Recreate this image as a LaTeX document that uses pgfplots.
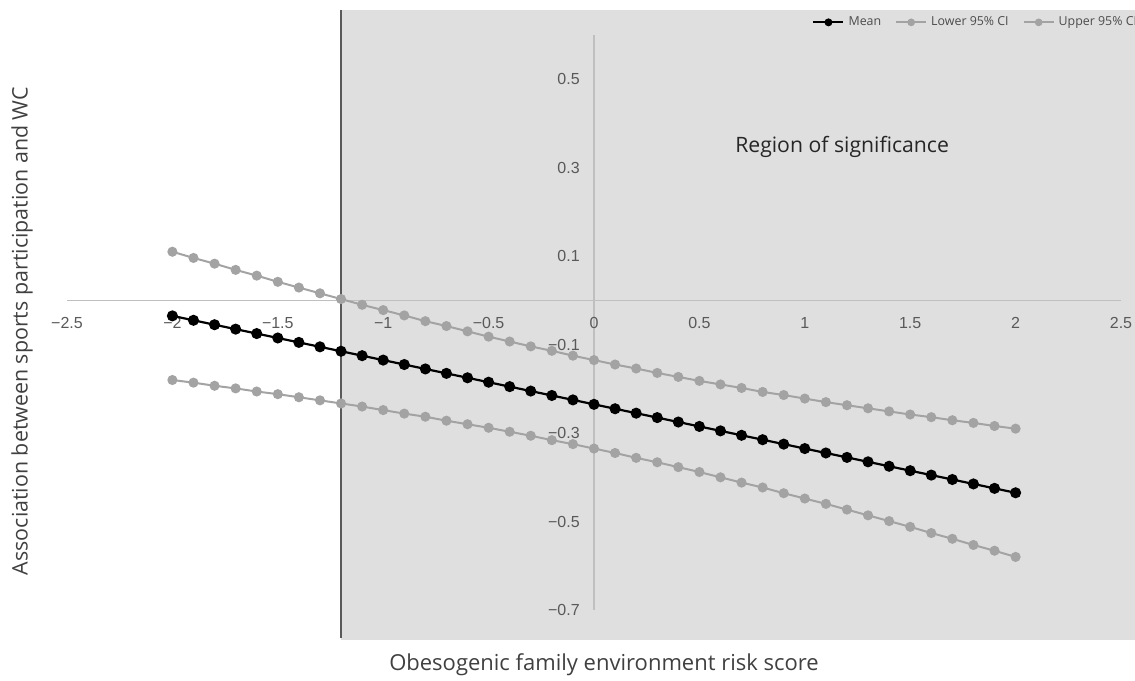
\documentclass[border=0pt]{standalone}
\usepackage{fontspec}
\setmainfont{Open Sans}
\newfontfamily\tickfont{Liberation Sans}
\usepackage{pgfplots}
\usepackage{pgfplotstable}
\pgfplotsset{compat=1.18}
\definecolor{cigray}{HTML}{A3A3A3}
\definecolor{shadegray}{HTML}{DFDFDF}
\definecolor{axgray}{HTML}{BFBFBF}
\definecolor{tickgray}{HTML}{595959}
\definecolor{divline}{HTML}{5A5A5A}
\definecolor{labgray}{HTML}{404040}

\pgfplotstableread{
x mean lower upper
-2.0 -0.035 -0.180 0.110
-1.9 -0.045 -0.186 0.096
-1.8 -0.055 -0.193 0.083
-1.7 -0.065 -0.199 0.069
-1.6 -0.075 -0.206 0.056
-1.5 -0.085 -0.212 0.042
-1.4 -0.095 -0.219 0.029
-1.3 -0.105 -0.226 0.016
-1.2 -0.115 -0.233 0.003
-1.1 -0.125 -0.240 -0.010
-1.0 -0.135 -0.248 -0.022
-0.9 -0.145 -0.256 -0.034
-0.8 -0.155 -0.263 -0.047
-0.7 -0.165 -0.272 -0.058
-0.6 -0.175 -0.280 -0.070
-0.5 -0.185 -0.288 -0.082
-0.4 -0.195 -0.297 -0.093
-0.3 -0.205 -0.306 -0.104
-0.2 -0.215 -0.316 -0.114
-0.1 -0.225 -0.325 -0.125
0.0 -0.235 -0.335 -0.135
0.1 -0.245 -0.345 -0.145
0.2 -0.255 -0.356 -0.154
0.3 -0.265 -0.366 -0.164
0.4 -0.275 -0.377 -0.173
0.5 -0.285 -0.388 -0.182
0.6 -0.295 -0.400 -0.190
0.7 -0.305 -0.412 -0.198
0.8 -0.315 -0.423 -0.207
0.9 -0.325 -0.436 -0.214
1.0 -0.335 -0.448 -0.222
1.1 -0.345 -0.460 -0.230
1.2 -0.355 -0.473 -0.237
1.3 -0.365 -0.486 -0.244
1.4 -0.375 -0.499 -0.251
1.5 -0.385 -0.512 -0.258
1.6 -0.395 -0.526 -0.264
1.7 -0.405 -0.539 -0.271
1.8 -0.415 -0.553 -0.277
1.9 -0.425 -0.566 -0.284
2.0 -0.435 -0.580 -0.290
}\data

\begin{document}
\begin{tikzpicture}
\fill[shadegray] (170.52pt,20pt) rectangle (567.5pt,335pt);
\draw[divline, line width=1pt] (170.52pt,21pt) -- (170.52pt,335pt);
\begin{axis}[
  at={(33.5pt,35pt)}, anchor=south west,
  scale only axis, width=527pt, height=287.5pt,
  xmin=-2.5, xmax=2.5, ymin=-0.7, ymax=0.6,
  axis lines=middle,
  axis line style={-, draw=axgray, line width=0.75pt},
  xtick={-2.5,-2,-1.5,-1,-0.5,0,0.5,1,1.5,2,2.5},
  xticklabels={−2.5,−2,−1.5,−1,−0.5,0,0.5,1,1.5,2,2.5},
  ytick={-0.7,-0.5,-0.3,-0.1,0.1,0.3,0.5},
  yticklabels={−0.7,−0.5,−0.3,−0.1,0.1,0.3,0.5},
  major tick length=0pt,
  tick style={draw=none},
  ticklabel style={font=\tickfont\fontsize{8}{9.5}\selectfont, text=tickgray},
  xticklabel style={yshift=-5pt},
  yticklabel style={xshift=-3.6pt},
  clip=false,
  legend columns=3,
  legend cell align=left,
  legend style={at={(0.7068,1.022)}, anchor=west, draw=none, fill=none,
    inner sep=0pt, font=\fontsize{6.2}{7}\selectfont, text=black!70,
    /tikz/every even column/.append style={column sep=5pt}},
  legend image code/.code={\draw[mark repeat=2,mark phase=2,#1,mark size=1.4pt]
     plot coordinates {(0pt,0pt) (7.5pt,0pt) (15pt,0pt)};},
]
\addplot[black, line width=1.1pt, mark=*, mark size=2.2pt, mark options={fill=black,draw=black}]
  table[x=x,y=mean]{\data};
\addlegendentry{Mean}
\addplot[cigray, line width=1pt, mark=*, mark size=2pt, mark options={fill=cigray,draw=cigray}]
  table[x=x,y=lower]{\data};
\addlegendentry{Lower 95\% CI}
\addplot[cigray, line width=1pt, mark=*, mark size=2pt, mark options={fill=cigray,draw=cigray}]
  table[x=x,y=upper]{\data};
\addlegendentry{Upper 95\% CI}
\node[anchor=north, yshift=-5pt, font=\tickfont\fontsize{8}{9.5}\selectfont, text=tickgray] at (axis cs:0,0) {0};
\node[font=\fontsize{10.6}{12}\selectfont, text=black!85] at (axis cs:1.177,0.348) {Region of significance};
\end{axis}
\node[rotate=90, font=\fontsize{10.7}{12}\selectfont, text=labgray] at (11pt,174.5pt) {Association between sports participation and WC};
\node[font=\fontsize{11}{13}\selectfont, text=labgray] at (302pt,7.5pt) {Obesogenic family environment risk score};
\pgfresetboundingbox
\path[use as bounding box] (0,0) rectangle (567.5pt,340pt);
\end{tikzpicture}
\end{document}
